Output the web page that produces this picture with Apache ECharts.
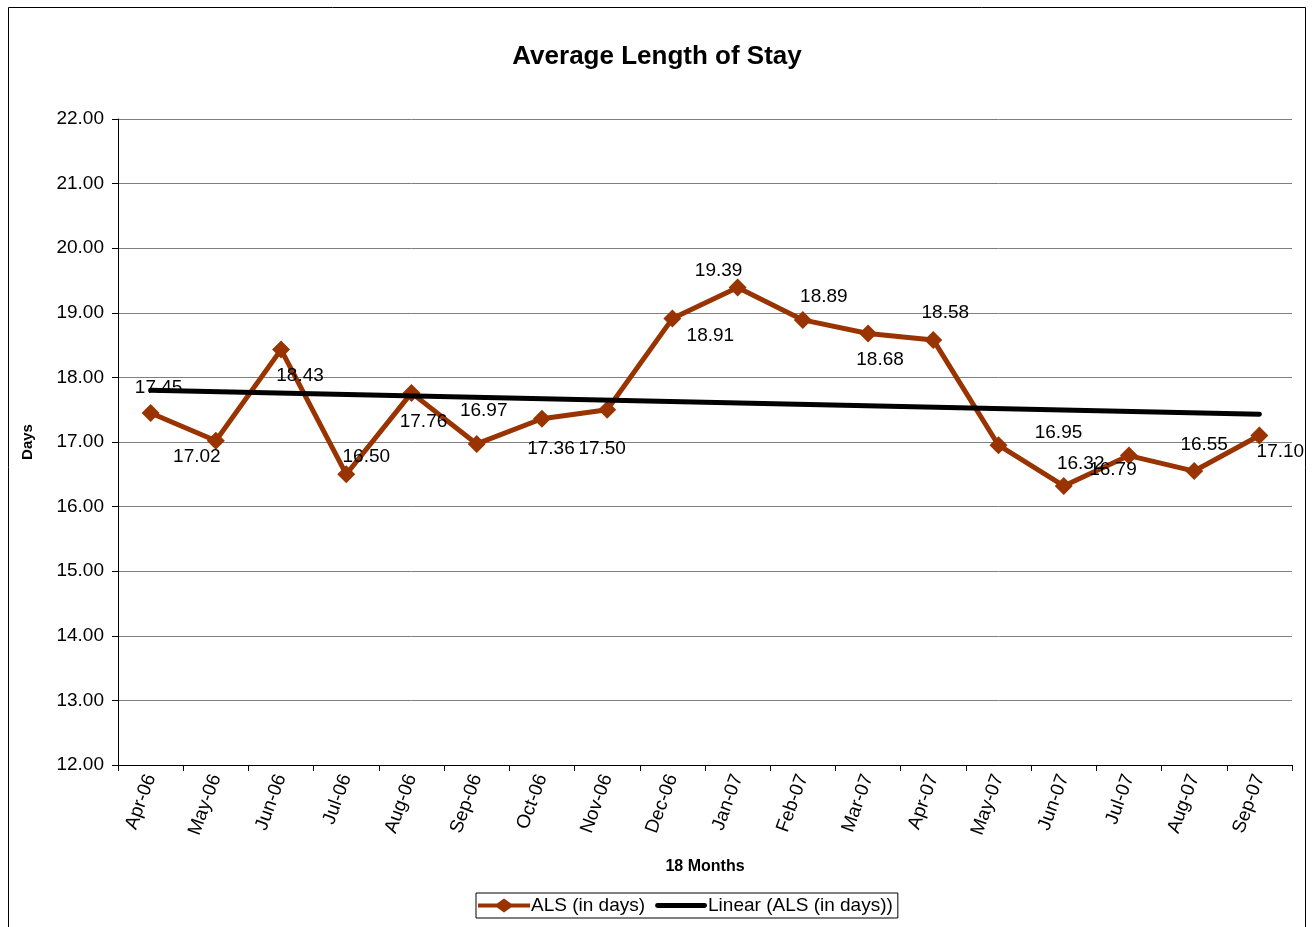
<!DOCTYPE html>
<html>
<head>
<meta charset="utf-8">
<title>Average Length of Stay</title>
<script src="https://cdn.jsdelivr.net/npm/echarts@6/dist/echarts.min.js"></script>
<style>
  html, body { margin: 0; padding: 0; background: #fff; }
  #chart { width: 1314px; height: 927px; }
</style>
</head>
<body>
<div id="chart"></div>
<script>
// data
var months = ['Apr-06', 'May-06', 'Jun-06', 'Jul-06', 'Aug-06', 'Sep-06', 'Oct-06', 'Nov-06', 'Dec-06',
              'Jan-07', 'Feb-07', 'Mar-07', 'Apr-07', 'May-07', 'Jun-07', 'Jul-07', 'Aug-07', 'Sep-07'];
var als = [17.45, 17.02, 18.43, 16.50, 17.76, 16.97, 17.36, 17.50, 18.91,
           19.39, 18.89, 18.68, 18.58, 16.95, 16.32, 16.79, 16.55, 17.10];
// trendline end points (Excel linear trend), middle left empty
var trendStart = 17.80;
var trendEnd = 17.43;

// where each data label sits relative to its marker
var labelOffsets = [
  [8, -25], [-19, 16], [19, 26], [20, -18], [12, 29], [7, -33],
  [9, 30], [-5, 39], [38, 17], [-19, -17], [21, -23], [12, 26],
  [12, -27], [60, -12], [17, -22], [-16, 14], [10, -26], [21, 16]
];

var alsData = als.map(function (v, i) {
  return { value: v, label: { offset: labelOffsets[i] } };
});
var trendData = months.map(function (m, i) {
  if (i === 0) return trendStart;
  if (i === months.length - 1) return trendEnd;
  return null;
});

var chart = echarts.init(document.getElementById('chart'));
var font = "'Liberation Sans', Arial, sans-serif";

var option = {
  backgroundColor: '#fff',
  animation: false,
  textStyle: { fontFamily: font, color: '#000' },
  title: {
    text: 'Average Length of Stay',
    left: 'center',
    top: 39,
    textStyle: { fontFamily: font, fontSize: 26, fontWeight: 'bold', color: '#000' }
  },
  graphic: [{
    type: 'rect',
    shape: { x: 8.5, y: 7.5, width: 1297, height: 940 },
    style: { fill: null, stroke: '#000', lineWidth: 1 },
    silent: true
  }],
  grid: { left: 118, right: 22, top: 119, bottom: 162 },
  legend: {
    bottom: 9,
    left: 476,
    borderColor: '#000',
    borderWidth: 1,
    borderRadius: 0,
    padding: [3, 5, 3, 2],
    itemGap: 10,
    itemWidth: 52,
    itemHeight: 14,
    textStyle: { fontFamily: font, fontSize: 19, color: '#000', padding: [0, 0, 0, -4] },
    data: [
      { name: 'ALS (in days)', icon: 'path://M0,5 L19,5 L26,0 L33,5 L52,5 L52,9 L33,9 L26,14 L19,9 L0,9 Z' },
      { name: 'Linear (ALS (in days))', icon: 'path://M2,0 L50,0 A2.5,2.5 0 0 1 50,5 L2,5 A2.5,2.5 0 0 1 2,0 Z' }
    ]
  },
  xAxis: {
    type: 'category',
    data: months,
    boundaryGap: true,
    name: '18 Months',
    nameLocation: 'middle',
    nameGap: 94,
    nameTextStyle: { fontFamily: font, fontSize: 16, fontWeight: 'bold', color: '#000' },
    axisLine: { lineStyle: { color: '#000', width: 1 } },
    axisTick: { show: true, inside: false, length: 6, lineStyle: { color: '#000' } },
    axisLabel: { rotate: 70, margin: 10, fontFamily: font, fontSize: 19, color: '#000', interval: 0 },
    splitLine: { show: false }
  },
  yAxis: {
    type: 'value',
    min: 12,
    max: 22,
    interval: 1,
    name: 'Days',
    nameLocation: 'middle',
    nameGap: 83,
    nameRotate: 90,
    nameTextStyle: { fontFamily: font, fontSize: 15, fontWeight: 'bold', color: '#000' },
    axisLine: { show: true, lineStyle: { color: '#000', width: 1 } },
    axisTick: { show: true, inside: false, length: 6, lineStyle: { color: '#000' } },
    axisLabel: {
      margin: 14,
      fontFamily: font,
      fontSize: 19,
      color: '#000',
      formatter: function (v) { return v.toFixed(2); }
    },
    splitLine: { show: true, lineStyle: { color: '#7f7f7f', width: 1 } }
  },
  series: [
    {
      name: 'ALS (in days)',
      type: 'line',
      data: alsData,
      color: '#993300',
      lineStyle: { color: '#993300', width: 5 },
      symbol: 'diamond',
      symbolSize: 18,
      itemStyle: { color: '#993300' },
      label: {
        show: true,
        position: 'inside',
        fontFamily: font,
        fontSize: 19,
        color: '#000',
        formatter: function (p) { return p.value.toFixed(2); }
      },
      z: 2
    },
    {
      name: 'Linear (ALS (in days))',
      type: 'line',
      data: trendData,
      connectNulls: true,
      color: '#000',
      lineStyle: { color: '#000', width: 5, cap: 'round' },
      symbol: 'none',
      showSymbol: false,
      z: 3
    }
  ]
};

chart.setOption(option);
</script>
</body>
</html>
